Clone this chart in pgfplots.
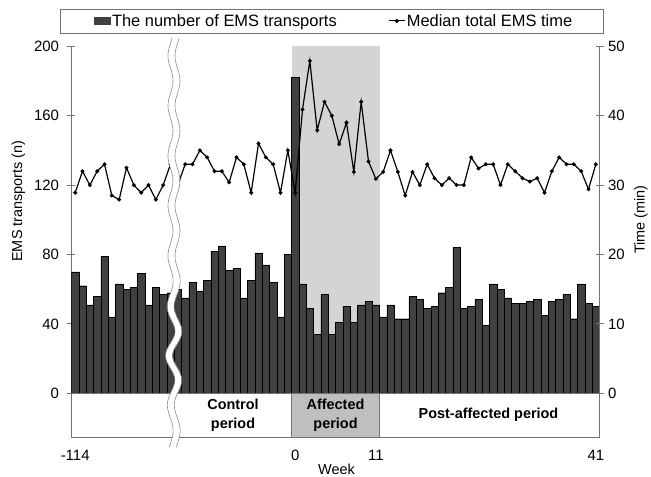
\documentclass[border=0pt]{standalone}
\usepackage{pgfplots}
\usepackage{pgfplotstable}
\pgfplotsset{compat=1.18}
\usepackage{fontspec}
\setmainfont{Liberation Sans}

\pgfplotstableread{
k n t
0 70 28.9
1 62 32.0
2 51 30.0
3 56 32.0
4 79 33.0
5 44 28.5
6 63 27.9
7 60 32.5
8 61 30.0
9 69 28.9
10 51 30.0
11 61 27.9
12 57 30.0
13 58 33.0
14 60 30.0
15 55 33.0
16 64 33.0
17 59 35.0
18 65 34.0
19 82 32.0
20 85 32.0
21 71 30.4
22 72 34.0
23 55 33.0
24 65 28.9
25 81 36.0
26 74 34.0
27 64 33.0
28 44 28.9
29 80 35.0
30 182 28.9
31 63 40.9
32 49 47.9
33 34 37.9
34 57 42.0
35 34 40.0
36 41 35.9
37 50 39.0
38 41 31.9
39 51 42.0
40 53 33.4
41 51 30.9
42 44 31.9
43 51 35.0
44 43 31.9
45 43 28.5
46 56 31.9
47 54 30.0
48 49 33.0
49 50 31.0
50 58 30.0
51 61 31.0
52 84 30.0
53 49 30.0
54 50 34.0
55 54 32.4
56 39 33.0
57 63 33.0
58 60 30.0
59 55 33.0
60 52 32.0
61 52 31.0
62 53 30.5
63 54 31.0
64 45 28.9
65 53 32.0
66 54 34.0
67 57 33.0
68 43 33.0
69 63 32.0
70 52 29.4
71 50 33.0
}\data

\begin{document}
\begin{tikzpicture}
\pgfplotsset{
  common/.style={
    at={(0,0)}, anchor=south west, scale only axis,
    width=528bp, height=347bp, xmin=0, xmax=72,
    axis line style={black!55, line width=0.8bp},
    tick style={black!55, line width=0.8bp},
    tick align=center, major tick length=8bp,
    /pgf/number format/assume math mode=true,
    tick label style={font=\fontsize{15}{17}\selectfont},
    label style={font=\fontsize{14.5}{17}\selectfont},
  }
}
\begin{axis}[common,
  ymin=0, ymax=200,
  axis x line*=bottom, axis y line*=left,
  xtick={0.5,30.5,41.5,71.5}, xticklabels={-114,0,11,41},
  x tick style={draw=none},
  xticklabel style={anchor=base, yshift=-63bp},
  ytick={0,40,...,200},
  yticklabel style={xshift=-5bp},
  xlabel={Week},
  xlabel style={at={(axis description cs:0.502,0)}, anchor=base, yshift=-81bp},
  ylabel={EMS transports (n)},
  ylabel style={at={(axis description cs:-0.1004,0.554)}, anchor=center},
]
\fill[black!17] (axis cs:30,0) rectangle (axis cs:42,200);
\addplot[ybar, bar width=7.333bp, fill=black!75, draw=black, line width=0.3bp]
  table[x expr=\thisrow{k}+0.5, y=n]{\data};
\end{axis}

\begin{axis}[common,
  ymin=0, ymax=50,
  axis x line=none, axis y line*=right,
  ytick={0,10,...,50},
  yticklabel style={xshift=1bp},
  ylabel={Time (min)},
  ylabel style={at={(axis description cs:1.0786,0.501)}, anchor=center},
  legend style={at={(axis description cs:0.497,1.0729)}, anchor=center,
    draw=none, fill=none, legend columns=2,
    font=\fontsize{16.5}{18}\selectfont,
    nodes={inner xsep=1.5bp},
    /tikz/every even column/.append style={column sep=50bp}},
]
\addlegendimage{legend image code/.code={\fill[black!75] (0bp,-3.5bp) rectangle (16bp,3.5bp);}}
\addlegendentry{The number of EMS transports}
\addplot[black, line width=1.2bp, mark=*, mark size=1.3bp,
  legend image code/.code={\draw[black,line width=1.0bp] (0bp,0bp)--(16bp,0bp); \fill[black] (8bp,0bp) circle (1.4bp);}]
  table[x expr=\thisrow{k}+0.5, y=t]{\data};
\addlegendentry{Median total EMS time}
\end{axis}

\begin{scope}[x=1bp,y=1bp]
  % legend frame
  \draw[black!55, line width=0.8bp] (-11.5,360.3) rectangle (531.5,384.3);
  % period band
  \fill[black!25] (220,0) rectangle (308,-43.7);
  \draw[black!55, line width=0.8bp] (0,0) rectangle (528,-43.7);
  \draw[black!55, line width=0.8bp] (220,0) -- (220,-43.7);
  \draw[black!55, line width=0.8bp] (308,0) -- (308,-43.7);
  \node[font=\bfseries\fontsize{14.5}{19.5}\selectfont, align=center] at (161.5,-21.7) {Control\\period};
  \node[font=\bfseries\fontsize{14.5}{19.5}\selectfont, align=center] at (264,-21.7) {Affected\\period};
  \node[font=\bfseries\fontsize{14.5}{19.5}\selectfont, align=center] at (417,-21.7) {Post-affected period};
  % axis break
  \draw[white, line width=6.5bp] plot[domain=-53.7:355.3, samples=200, smooth, variable=\t]
    ({102.5+(2.5+2.5*exp(-((\t-40)/45)^2))*sin(7.2*\t)}, \t);
  \draw[black!45, line width=0.6bp] plot[domain=-53.7:355.3, samples=200, smooth, variable=\t]
    ({99+(2.5+2.5*exp(-((\t-40)/45)^2))*sin(7.2*\t)}, \t);
  \draw[black!45, line width=0.6bp] plot[domain=-53.7:355.3, samples=200, smooth, variable=\t]
    ({106+(2.5+2.5*exp(-((\t-40)/45)^2))*sin(7.2*\t)}, \t);
  \pgfresetboundingbox
  \path[use as bounding box] (-71.5,-83.7) rectangle (579.5,393.3);
\end{scope}
\end{tikzpicture}
\end{document}
